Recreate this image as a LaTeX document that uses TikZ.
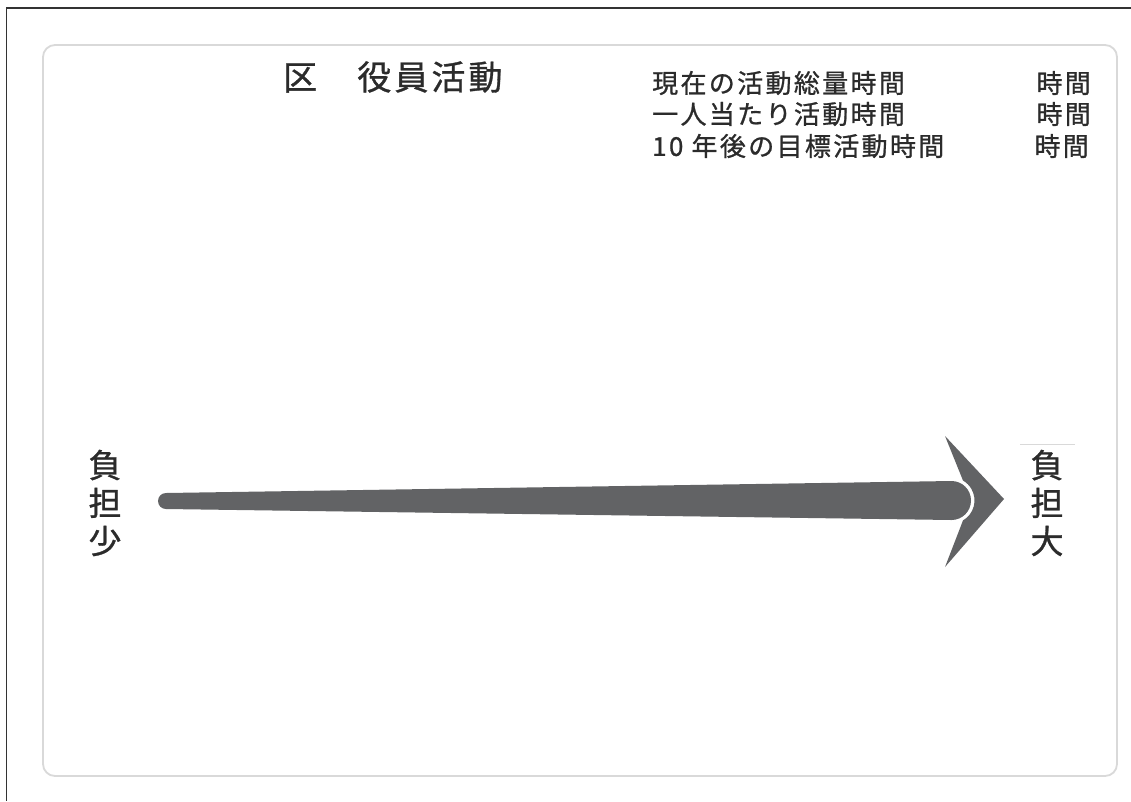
\documentclass[tikz,border=0pt]{standalone}
\usepackage{fontspec}
\setmainfont[FakeBold=0.9]{Noto Sans CJK JP}
\newfontfamily\jpsp[LetterSpace=9,FakeBold=0.9]{Noto Sans CJK JP}
\definecolor{ink}{HTML}{2B2B2B}
\definecolor{arrowgray}{HTML}{626365}
\definecolor{panelgray}{HTML}{D9D9D9}
\definecolor{framegray}{HTML}{333333}
\begin{document}
\begin{tikzpicture}[x=1pt,y=-1pt,
  frame/.style={draw=framegray,line width=1.4pt},
  panel/.style={draw=panelgray,line width=1.8pt,rounded corners=12pt},
  arrowfill/.style={fill=arrowgray},
  title/.style={text=ink,inner sep=0pt,anchor=west,font=\jpsp\fontsize{34}{38}\selectfont},
  info/.style={text=ink,inner sep=0pt,font=\jpsp\fontsize{26}{30}\selectfont},
  vlabel/.style={text=ink,inner sep=0pt,align=center,font=\fontsize{33}{38}\selectfont}]
\useasboundingbox (0,0) rectangle (1131,801);
\fill[white] (0,0) rectangle (1131,801);
% outer frame lines
\draw[frame] (1131,8) -- (6.5,8) -- (6.5,801);
% panel
\draw[panel] (43,45) rectangle (1117,776);
% arrow shaft
\fill[arrowfill] (166,493) -- (951.5,481) arc[start angle=-90,end angle=90,radius=19.5]
  -- (166,509) arc[start angle=90,end angle=270,radius=8] -- cycle;
% chevron head
\fill[arrowfill] (945,436) -- (1004,499) -- (945,567) -- (963,520.4)
  arc[start angle=60,end angle=-60,radius=23] -- cycle;
% texts
\node[title] (title) at (283,77) {区　役員活動};
\node[info,anchor=west] (l1) at (652,83) {現在の活動総量時間};
\node[info,anchor=west] (l2) at (652,114) {一人当たり活動時間};
\node[info,anchor=west] (l3) at (652,146) {10 年後の目標活動時間};
\node[info,anchor=east] (h1) at (1091,83) {時間};
\node[info,anchor=east] (h2) at (1091,114) {時間};
\node[info,anchor=east] (h3) at (1089,146) {時間};
\node[vlabel] (less) at (105,503) {負\\担\\少};
\node[vlabel] (more) at (1047,503) {負\\担\\大};
\draw[panelgray,line width=1pt] (1020,444) -- (1075,444);
\end{tikzpicture}
\end{document}
